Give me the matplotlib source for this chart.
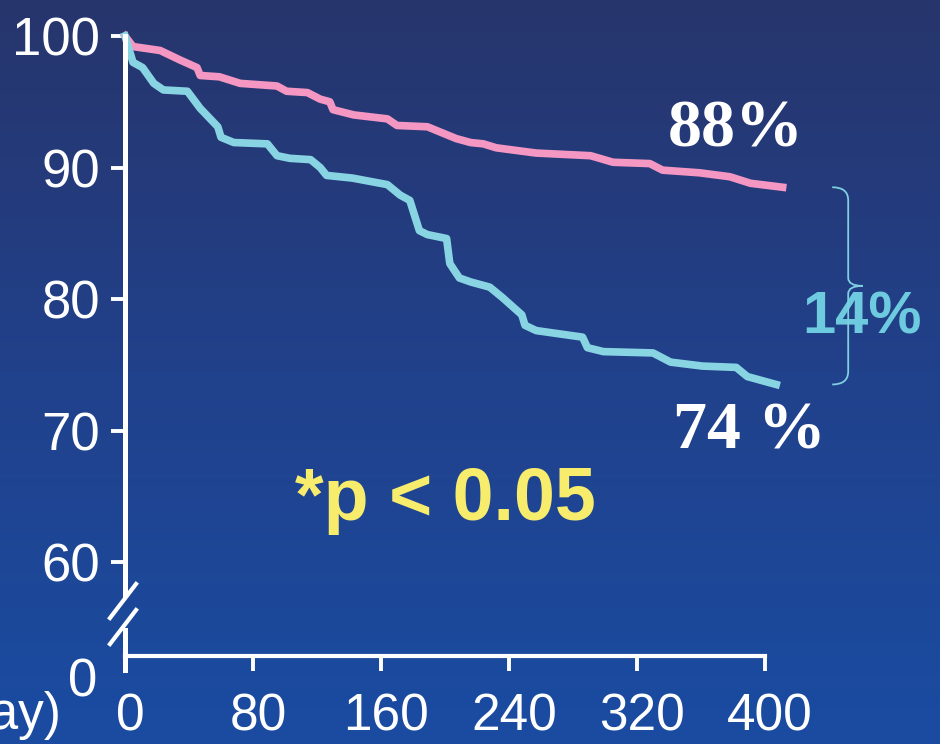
import numpy as np
import matplotlib.pyplot as plt
import matplotlib.transforms as mtransforms
from matplotlib.path import Path
from matplotlib.patches import PathPatch
from matplotlib.colors import LinearSegmentedColormap

# survival curves (day, %)
days_a = [0, 5, 22, 34, 45, 47, 59, 72, 95, 101, 114, 122, 128, 130, 143, 164, 170,
          189, 207, 216, 224, 232, 257, 291, 305, 328, 336, 359, 378, 391, 411]
surv_a = [100, 99.2, 98.9, 98.2, 97.6, 97.0, 96.9, 96.4, 96.2, 95.8, 95.7, 95.2, 95.0,
          94.4, 94.0, 93.7, 93.2, 93.1, 92.2, 91.9, 91.8, 91.5, 91.1, 90.9, 90.4, 90.3,
          89.8, 89.6, 89.3, 88.8, 88.5]

days_b = [0, 5, 11, 18, 24, 39, 47, 58, 60, 68, 89, 95, 103, 116, 122, 126, 142, 164,
          172, 178, 184, 189, 201, 203, 209, 216, 228, 236, 248, 250, 257, 286, 289,
          299, 330, 341, 361, 382, 389, 407]
surv_b = [100, 98.0, 97.6, 96.4, 95.9, 95.8, 94.5, 93.1, 92.3, 91.9, 91.8, 90.9, 90.7,
          90.6, 90.0, 89.4, 89.2, 88.7, 87.9, 87.5, 85.2, 84.9, 84.6, 82.7, 81.6, 81.3,
          80.9, 80.1, 78.8, 78.0, 77.6, 77.1, 76.3, 76.0, 75.9, 75.2, 74.9, 74.8, 74.1,
          73.5]

xticks = [0, 80, 160, 240, 320, 400]
yticks = [60, 70, 80, 90, 100]
zero_pos = 52.85  # where "0" sits below the axis break

pink = '#f497c2'
cyan = '#88d4e2'
white = 'white'

plt.rcParams['font.family'] = ['Liberation Sans', 'DejaVu Sans']

fig = plt.figure(figsize=(9.4, 7.44), dpi=100)
ax = fig.add_axes([0, 0, 1, 1])
ax.set_xlim(-78.125, 509.375)
ax.set_ylim(46.16, 102.74)

# background gradient
bg = LinearSegmentedColormap.from_list('bg', ['#1a4ca2', '#21418b', '#27356c'])
grad = np.linspace(0, 1, 256).reshape(-1, 1)
ax.imshow(grad, cmap=bg, origin='lower', aspect='auto',
          extent=(-78.125, 509.375, 46.16, 102.74), zorder=0)

ax.plot(days_a, surv_a, color=pink, lw=5.5, solid_joinstyle='round', zorder=3)
ax.plot(days_b, surv_b, color=cyan, lw=5.5, solid_joinstyle='round', zorder=3)

# axes
for s in ['top', 'right']:
    ax.spines[s].set_visible(False)
ax.spines['left'].set_position(('data', 0))
ax.spines['bottom'].set_position(('data', zero_pos))
ax.spines['left'].set_bounds(57.5, 100)
ax.spines['bottom'].set_bounds(0, 400)
ax.spines['left'].set_linewidth(3.6)
ax.spines['bottom'].set_linewidth(3)
for s in ['left', 'bottom']:
    ax.spines[s].set_color(white)
    ax.spines[s].set_zorder(4)

ax.set_xticks(xticks)
ax.set_yticks(yticks)
ax.set_xticklabels([str(v) for v in xticks])
ax.set_yticklabels([str(v) for v in yticks])
ax.tick_params(axis='x', colors=white, length=11, width=2.8, pad=15, labelsize=37)
ax.tick_params(axis='y', colors=white, length=10, width=2.8, pad=8, labelsize=38)
shift = mtransforms.ScaledTranslation(5 / 100, 0, fig.dpi_scale_trans)
for lab in ax.get_xticklabels():
    lab.set_transform(lab.get_transform() + shift)

# lower piece of the y axis and the break marks
ax.plot([0, 0], [51.8, 54.8], color=white, lw=3.6, clip_on=False, zorder=4)
ax.plot([-9.4, 6.9], [55.74, 58.33], color=white, lw=3, zorder=4)
ax.plot([-9.4, 6.9], [53.76, 56.35], color=white, lw=3, zorder=4)
ax.text(-26.25, 50.8, '0', color=white, fontsize=38, ha='center', va='center')
ax.text(-39.4, 48.3, '(day)', color=white, fontsize=37, ha='right', va='center')

# labels on the curves
ax.text(381.9, 91.63, '88%', color=white, fontsize=49, fontweight='bold',
        family=['Liberation Serif'], ha='center', va='baseline', zorder=5)
ax.text(390, 68.67, '74 %', color=white, fontsize=49, fontweight='bold',
        family=['Liberation Serif'], ha='center', va='baseline', zorder=5)
ax.text(460.6, 77.41, '14%', color='#6ecbdf', fontsize=43, fontweight='bold',
        ha='center', va='baseline', zorder=5)
ax.text(200, 63.2, '*p < 0.05', color='#f8ec6c', fontsize=53, fontweight='bold',
        ha='center', va='baseline', zorder=5)

# brace between the two end points
top, bot = surv_a[-1], surv_b[-1]
mid = (top + bot) / 2
verts = [(442, top), (452, top), (452, top - 1.0),
         (452, mid + 0.6), (452, mid), (461, mid),
         (452, mid), (452, mid - 0.6),
         (452, bot + 1.0), (452, bot), (442, bot)]
codes = [Path.MOVETO, Path.CURVE3, Path.CURVE3,
         Path.LINETO, Path.CURVE3, Path.CURVE3,
         Path.CURVE3, Path.CURVE3,
         Path.LINETO, Path.CURVE3, Path.CURVE3]
ax.add_patch(PathPatch(Path(verts, codes), fill=False, edgecolor='#7fcfe0', lw=1.3, zorder=6))

plt.savefig('out.png', dpi=100)
